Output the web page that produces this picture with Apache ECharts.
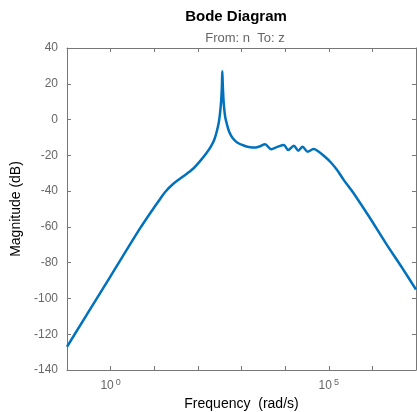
<!DOCTYPE html>
<html>
<head>
<meta charset="utf-8">
<script src="https://cdn.jsdelivr.net/npm/echarts@6/dist/echarts.min.js"></script>
<style>html,body{margin:0;padding:0;background:#fff}#c{width:417px;height:412px}</style>
</head>
<body>
<div id="c"></div>
<script>
// log10 of frequency (rad/s)
const logFreq = [-1, 0, 0.67, 1.0, 1.13, 1.25, 1.43, 1.65, 1.89, 2.04, 2.19, 2.30, 2.38, 2.44, 2.48, 2.51, 2.535, 2.55, 2.56, 2.57, 2.585, 2.60, 2.63, 2.67, 2.72, 2.80, 2.90, 3.05, 3.20, 3.32, 3.42, 3.54, 3.68, 3.82, 3.97, 4.07, 4.20, 4.30, 4.40, 4.515, 4.65, 4.74, 4.90, 5.05, 5.20, 5.35, 5.55, 5.93, 6.31, 6.69, 7.0];
// magnitude (dB)
const magDb = [-127, -87.5, -61, -49, -44.5, -40.5, -36, -32, -27.5, -23.5, -19, -15, -11, -6, -1.5, 4, 11, 18, 27, 20, 12, 7, 1, -3, -7, -10.5, -12.8, -14.5, -15.5, -15.6, -15, -13.8, -16.6, -15.3, -14.2, -17, -14.6, -17.4, -15.2, -18, -16.5, -17.4, -20.5, -24, -28.5, -34, -40.5, -54.5, -69.2, -83.2, -95];
const xLabeled = {1: '0', 100000: '5'};
const yTicks = [40, 20, 0, -20, -40, -60, -80, -100, -120, -140];

const data = logFreq.map((e, i) => [Math.pow(10, e), magDb[i]]);
const axisColor = '#777';
const labelColor = '#666';
const font = 'Liberation Sans, Arial, Helvetica, sans-serif';

const chart = echarts.init(document.getElementById('c'), null, {renderer: 'canvas'});
const baseX = {
  type: 'log', logBase: 10, min: 0.1, max: 1e7, interval: 1,
  axisLine: {show: true, onZero: false, lineStyle: {color: axisColor, width: 1}},
  axisTick: {show: true, inside: true, length: 4, lineStyle: {color: axisColor}},
  minorTick: {show: false}, splitLine: {show: false}
};
const baseY = {
  type: 'value', min: yTicks[yTicks.length - 1], max: yTicks[0], interval: 20,
  axisLine: {show: true, onZero: false, lineStyle: {color: axisColor, width: 1}},
  axisTick: {show: true, inside: true, length: 4, lineStyle: {color: axisColor}},
  splitLine: {show: false}
};
chart.setOption({
  animation: false,
  textStyle: {fontFamily: font},
  title: [
    {text: 'Bode Diagram', left: 231, top: 4, textAlign: 'center',
     textStyle: {fontSize: 15, fontWeight: 'bold', color: '#000', fontFamily: font}},
    {text: 'From: n  To: z', left: 240, top: 27, textAlign: 'center',
     textStyle: {fontSize: 13, fontWeight: 'normal', color: labelColor, fontFamily: font}}
  ],
  grid: {left: 67, right: 1, top: 48, bottom: 42, containLabel: false, outerBoundsMode: 'none'},
  xAxis: [
    Object.assign({}, baseX, {
      position: 'bottom',
      name: 'Frequency  (rad/s)', nameLocation: 'middle', nameGap: 26,
      nameTextStyle: {fontSize: 14, color: '#000', fontFamily: font},
      axisLabel: {
        show: true, margin: 8, color: labelColor, fontSize: 12, fontFamily: font,
        formatter: function (v) {
          const key = Math.round(v);
          return xLabeled[key] !== undefined ? '{a|10}{b|' + xLabeled[key] + '}' : '';
        },
        rich: {
          a: {fontSize: 12, color: labelColor, fontFamily: font},
          b: {fontSize: 9, color: labelColor, fontFamily: font, padding: [0, 0, 7, 2]}
        }
      }
    }),
    Object.assign({}, baseX, {position: 'top', axisLabel: {show: false}})
  ],
  yAxis: [
    Object.assign({}, baseY, {
      position: 'left',
      name: 'Magnitude (dB)', nameLocation: 'middle', nameGap: 41,
      nameTextStyle: {fontSize: 14, color: '#000', fontFamily: font},
      axisLabel: {show: true, margin: 9, color: labelColor, fontSize: 12, fontFamily: font}
    }),
    Object.assign({}, baseY, {position: 'right', axisLabel: {show: false}})
  ],
  series: [{
    type: 'line', xAxisIndex: 0, yAxisIndex: 0, data: data,
    showSymbol: false, symbol: 'none', smooth: 0.3,
    lineStyle: {color: '#0072BD', width: 2.5}, clip: true
  }]
});
</script>
</body>
</html>
